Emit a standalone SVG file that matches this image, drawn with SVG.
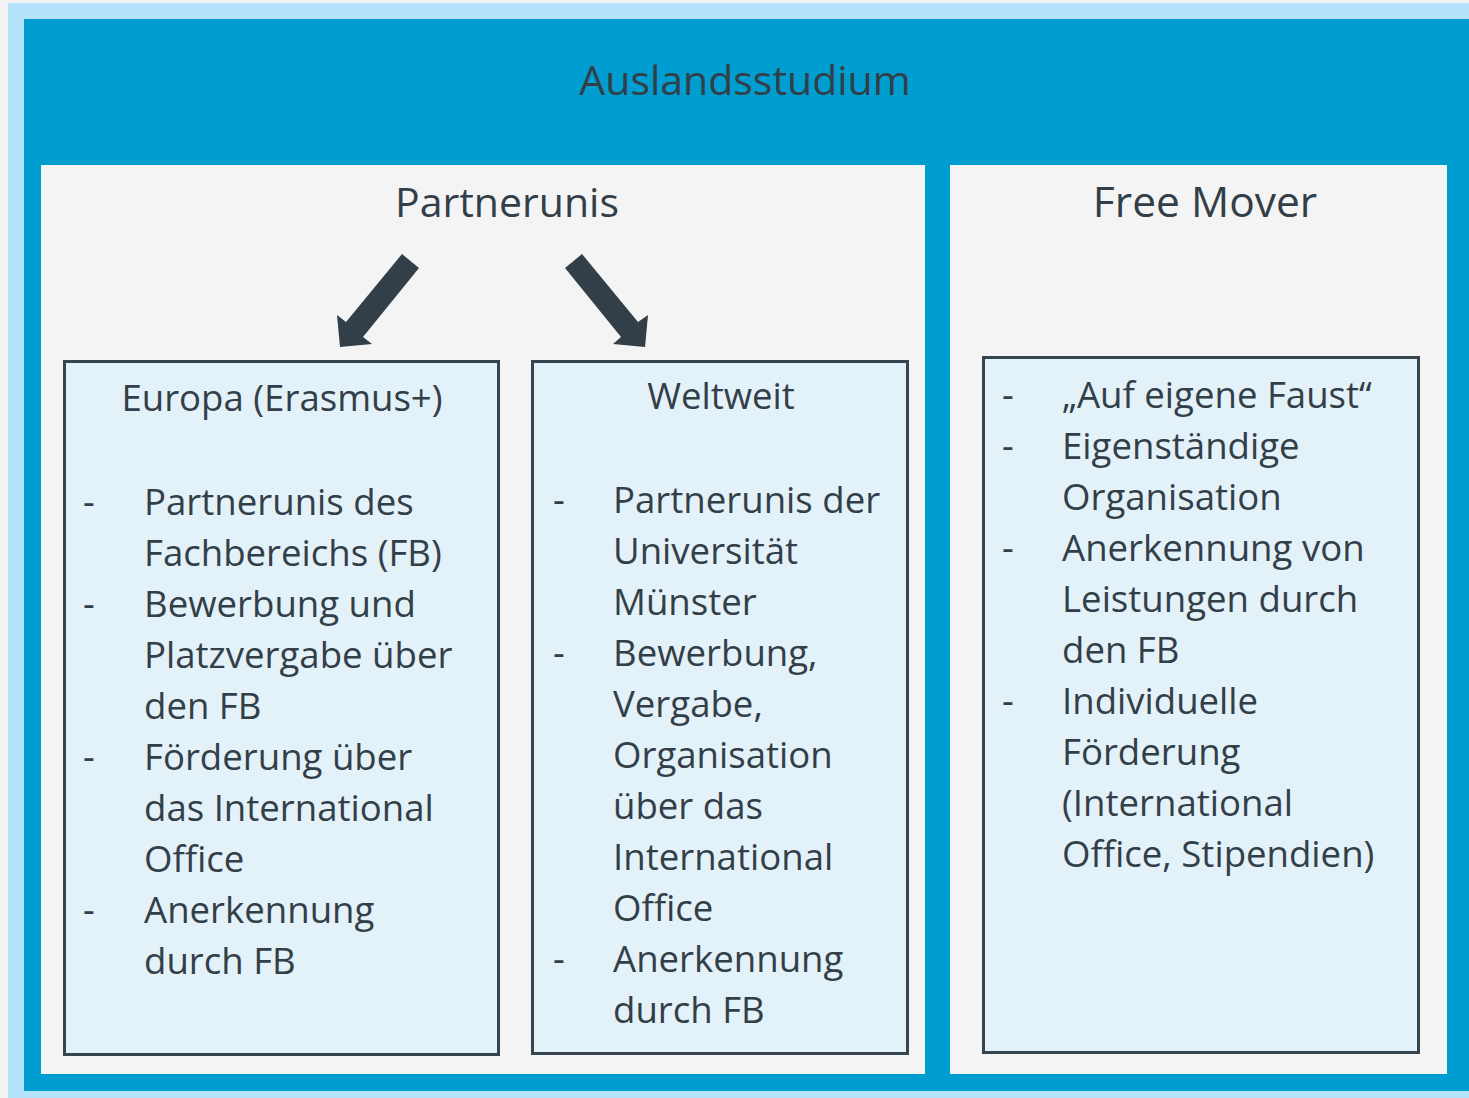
<svg xmlns="http://www.w3.org/2000/svg" width="1469" height="1098" viewBox="0 0 1469 1098">
<style>
.t{font-family:"Open Sans","Noto Sans","DejaVu Sans",sans-serif;fill:#333f48}
.h{font-size:41px}
.b{font-size:36.6px}
.box{fill:#e3f1f8;stroke:#364450;stroke-width:3}
.panel{fill:#f4f4f4}
.arrow{fill:#333f48}
</style>
<rect x="0" y="0" width="1469" height="1098" fill="#f3f3f3"/>
<rect x="8" y="3" width="1461" height="1095" fill="#b5e3fc"/>
<rect x="24" y="19" width="1445" height="1072" fill="#009dd0"/>
<g id="title"><text class="t h" x="745" y="95" text-anchor="middle">Auslandsstudium</text></g>
<g id="partnerunis">
<rect class="panel" x="41" y="165" width="884" height="909"/>
<text class="t h" x="507" y="217" text-anchor="middle">Partnerunis</text>
</g>
<g id="freemover">
<rect class="panel" x="950" y="165" width="497" height="909"/>
<text class="t h" x="1205" y="217" text-anchor="middle" style="font-size:42.5px">Free Mover</text>
</g>
<g id="connectors">
<polygon class="arrow" points="402,254 419,268 363,337 372,344 340,347 337,315 346,322"/>
<polygon class="arrow" points="582,254 565,268 621,337 613,344 645,347 648,315 638,322"/>
</g>
<g id="europa">
<rect class="box" x="64.5" y="361.5" width="434" height="693"/>
<text class="t b" x="282" y="411" text-anchor="middle">Europa (Erasmus+)</text>
<g class="t b">
<text x="83" y="515">-</text><text x="144" y="515">Partnerunis des</text>
<text x="144" y="566">Fachbereichs (FB)</text>
<text x="83" y="617">-</text><text x="144" y="617">Bewerbung und</text>
<text x="144" y="668">Platzvergabe über</text>
<text x="144" y="719">den FB</text>
<text x="83" y="770">-</text><text x="144" y="770">Förderung über</text>
<text x="144" y="821">das International</text>
<text x="144" y="872">Office</text>
<text x="83" y="923">-</text><text x="144" y="923">Anerkennung</text>
<text x="144" y="974">durch FB</text>
</g>
</g>
<g id="weltweit">
<rect class="box" x="532.5" y="361.5" width="375" height="692"/>
<text class="t b" x="721" y="409" text-anchor="middle">Weltweit</text>
<g class="t b">
<text x="553" y="513">-</text><text x="613" y="513">Partnerunis der</text>
<text x="613" y="564">Universität</text>
<text x="613" y="615">Münster</text>
<text x="553" y="666">-</text><text x="613" y="666">Bewerbung,</text>
<text x="613" y="717">Vergabe,</text>
<text x="613" y="768">Organisation</text>
<text x="613" y="819">über das</text>
<text x="613" y="870">International</text>
<text x="613" y="921">Office</text>
<text x="553" y="972">-</text><text x="613" y="972">Anerkennung</text>
<text x="613" y="1023">durch FB</text>
</g>
</g>
<g id="freemover-box">
<rect class="box" x="983.5" y="357.5" width="435" height="695"/>
<g class="t b">
<text x="1002" y="408">-</text><text x="1062" y="408">„Auf eigene Faust“</text>
<text x="1002" y="459">-</text><text x="1062" y="459">Eigenständige</text>
<text x="1062" y="510">Organisation</text>
<text x="1002" y="561">-</text><text x="1062" y="561">Anerkennung von</text>
<text x="1062" y="612">Leistungen durch</text>
<text x="1062" y="663">den FB</text>
<text x="1002" y="714">-</text><text x="1062" y="714">Individuelle</text>
<text x="1062" y="765">Förderung</text>
<text x="1062" y="816">(International</text>
<text x="1062" y="867">Office, Stipendien)</text>
</g>
</g>
</svg>
